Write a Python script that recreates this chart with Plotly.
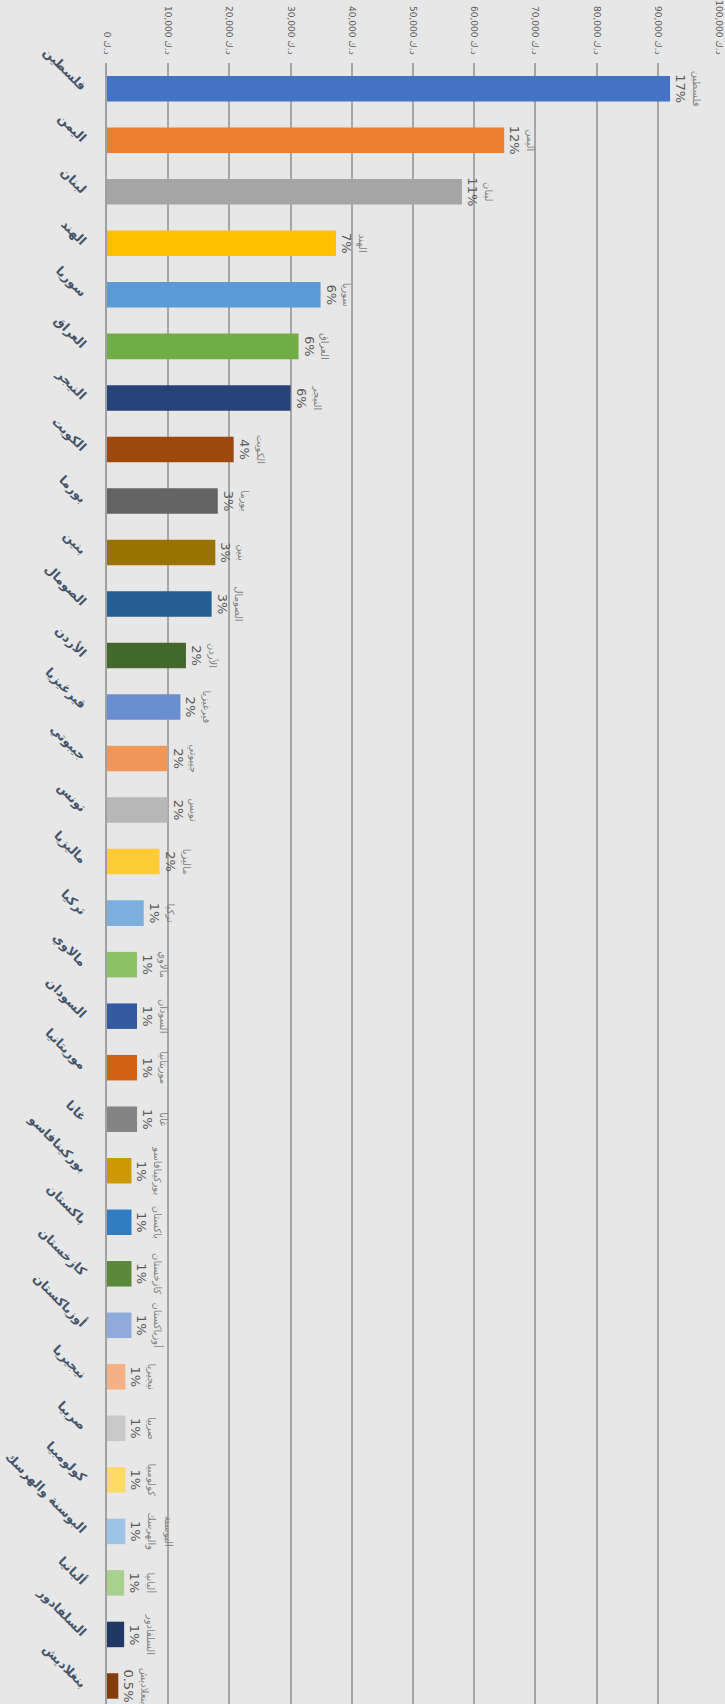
import plotly.graph_objects as go

countries = ["فلسطين", "اليمن", "لبنان", "الهند", "سوريا", "العراق", "النيجر", "الكويت",
             "بورما", "بنين", "الصومال", "الأردن", "قيرغيزيا", "جيبوتي", "تونس", "ماليزيا",
             "تركيا", "مالاوي", "السودان", "موريتانيا", "غانا", "بوركينافاسو", "باكستان",
             "كازخستان", "أوزباكستان", "نيجيريا", "صربيا", "كولومبيا", "البوسنة والهرسك",
             "ألبانيا", "السلفادور", "بنغلاديش"]
label_names = ["فلسطين", "اليمن", "لبنان", "الهند", "سوريا", "العراق", "النيجر", "الكويت",
               "بورما", "بنين", "الصومال", "الأردن", "قيرغيزيا", "جيبوتي", "تونس", "ماليزيا",
               "تركيا", "مالاوي", "السودان", "موريتانيا", "غانا", "بوركينافاسو", "باكستان",
               "كازخستان", "أوزباكستان", "نيجيريا", "صربيا", "كولومبيا", "البوسنة<br>والهرسك",
               "ألبانيا", "السلفادور", "بنغلاديش"]
values = [92000, 64900, 58000, 37400, 34900, 31300, 30000, 20700,
          18100, 17700, 17100, 12900, 12000, 9900, 9900, 8600,
          6000, 4900, 4900, 4900, 4900, 4000, 4000,
          4000, 4000, 3000, 3000, 3000, 3000,
          2800, 2800, 1850]
percents = ["17%", "12%", "11%", "7%", "6%", "6%", "6%", "4%",
            "3%", "3%", "3%", "2%", "2%", "2%", "2%", "2%",
            "1%", "1%", "1%", "1%", "1%", "1%", "1%",
            "1%", "1%", "1%", "1%", "1%", "1%",
            "1%", "1%", "0.5%"]
colors = ["#4472C4", "#ED7D31", "#A5A5A5", "#FFC000", "#5B9BD5", "#70AD47", "#264478", "#9E480E",
          "#636363", "#997300", "#255E91", "#43682B", "#698ED0", "#F1975A", "#B7B7B7", "#FFCD33",
          "#7CAFDD", "#8CC168", "#335AA1", "#D26012", "#848484", "#CC9A00", "#327DC2",
          "#5A8A39", "#8FAADC", "#F4B183", "#C9C9C9", "#FFD966", "#9DC3E6",
          "#A9D18E", "#1F3864", "#843C0C"]
tick_vals = [0, 10000, 20000, 30000, 40000, 50000, 60000, 70000, 80000, 90000, 100000]
tick_text = ["0 د.ك", "10,000 د.ك", "20,000 د.ك", "30,000 د.ك", "40,000 د.ك", "50,000 د.ك",
             "60,000 د.ك", "70,000 د.ك", "80,000 د.ك", "90,000 د.ك", "100,000 د.ك"]

texts = [f"<span style='font-size:10px;color:#7f7f7f'>{n}</span><br>{p}"
         for n, p in zip(label_names, percents)]

fig = go.Figure(go.Bar(
    x=values, y=countries, orientation="h",
    marker=dict(color=colors, line=dict(width=0)),
    text=texts, textposition="outside", textangle=90,
    constraintext="none", cliponaxis=False,
    textfont=dict(family="DejaVu Sans", size=13, color="#595959"),
    hoverinfo="skip",
))

fig.update_layout(
    width=725, height=1704,
    margin=dict(l=107, r=6, t=63, b=0),
    paper_bgcolor="#E7E7E7", plot_bgcolor="#E7E7E7",
    bargap=0.505, showlegend=False,
    font=dict(family="DejaVu Sans"),
)
fig.update_xaxes(
    side="top", range=[0, 100000], tickvals=tick_vals, ticktext=tick_text,
    tickangle=90, tickfont=dict(size=9, color="#595959"),
    showgrid=True, gridcolor="#A6A6A6", gridwidth=1.5,
    zeroline=False, showline=False, ticks="", ticklabelstandoff=6,
    automargin=False,
)
fig.update_yaxes(
    type="category", range=[len(countries) - 1 + 0.35, -0.5],
    tickangle=45, tickfont=dict(size=12.5, color="#44546A", family="DejaVu Sans", weight="bold"),
    showline=True, linecolor="#A0A0A0", linewidth=2, ticks="", ticklabelstandoff=17,
    showgrid=False, automargin=False,
)

fig.write_html(
    "out.html",
    config={"displayModeBar": False},
    post_script="document.body.style.margin='0';document.body.style.overflow='hidden';"
                "document.body.style.background='#E7E7E7';",
)
